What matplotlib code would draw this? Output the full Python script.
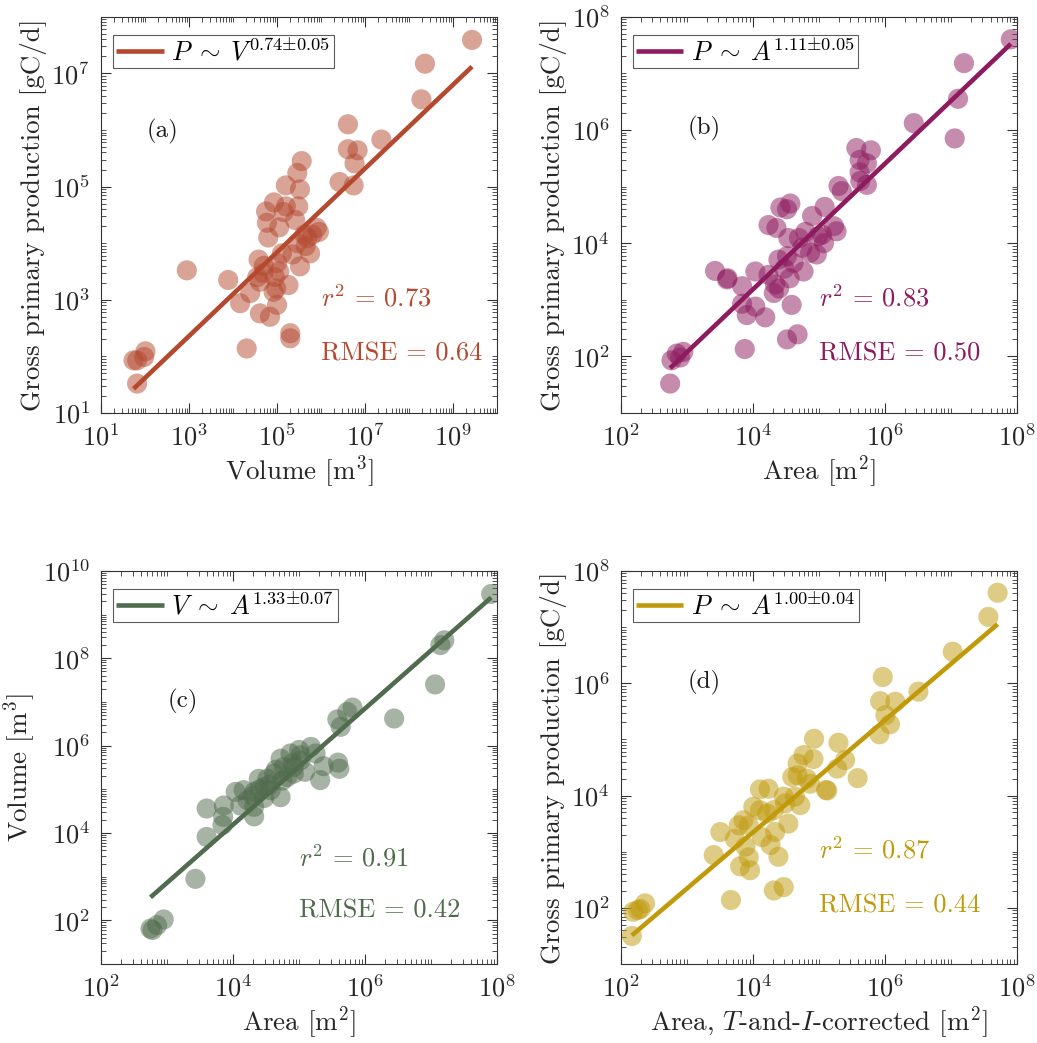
import numpy as np
import matplotlib
matplotlib.use("Agg")
import matplotlib.pyplot as plt
from matplotlib.ticker import LogLocator, NullFormatter

plt.rcParams['font.family'] = 'serif'
plt.rcParams['font.serif'] = ['cmr10', 'DejaVu Serif']
plt.rcParams['mathtext.fontset'] = 'cm'
plt.rcParams['axes.unicode_minus'] = False
plt.rcParams['axes.formatter.use_mathtext'] = True

# log10 values
# (a) GPP vs volume
a_logx = [9.43, 8.36, 8.28, 6.61, 7.37, 6.61, 6.83, 6.76, 6.42, 6.74,
          5.56, 5.46, 5.20, 5.52, 4.93, 5.20, 5.48, 4.75, 5.41, 4.77,
          5.05, 5.90, 4.80, 5.69, 5.80, 5.46, 5.75, 5.11, 4.58, 5.00,
          5.52, 4.69, 3.89, 4.61, 5.26, 4.92, 4.39, 4.16, 5.00, 4.61,
          4.84, 5.30, 5.30, 4.31, 2.95, 2.01, 1.82, 1.98, 1.74, 1.82,
          5.65, 5.35, 4.95, 5.62, 5.05, 4.70, 5.95, 4.55, 5.15, 4.98]
a_logy = [7.59, 7.17, 6.54, 6.10, 5.83, 5.66, 5.64, 5.41, 5.08, 5.02,
          5.45, 5.24, 5.02, 4.95, 4.72, 4.65, 4.65, 4.56, 4.41, 4.36,
          4.28, 4.27, 4.10, 4.09, 4.15, 4.00, 3.82, 3.82, 3.71, 3.65,
          3.59, 3.47, 3.35, 3.32, 3.26, 3.14, 3.12, 2.94, 2.91, 2.76,
          2.70, 2.41, 2.32, 2.14, 3.52, 2.09, 1.93, 1.99, 1.93, 1.52,
          3.95, 3.80, 3.40, 4.15, 3.50, 3.60, 4.20, 3.40, 4.55, 3.20]

# (b) GPP vs area
b_logx = [7.91, 7.20, 7.11, 7.06, 6.44, 5.57, 5.79, 5.62, 5.73, 5.62,
          5.63, 5.73, 5.30, 5.35, 5.09, 4.90, 4.57, 4.42, 4.52, 4.24,
          4.36, 4.99, 5.23, 5.27, 4.70, 4.54, 5.08, 4.75, 4.87, 4.97,
          4.52, 4.39, 4.62, 4.77, 4.04, 3.43, 3.61, 4.24, 4.34, 4.32,
          4.56, 3.84, 4.59, 3.84, 4.04, 3.91, 4.19, 4.52, 4.68, 3.88,
          2.75, 2.85, 2.95, 2.77, 2.90, 4.40, 4.48, 4.80, 5.05, 3.62]
b_logy = [7.60, 7.18, 6.55, 5.85, 6.12, 5.68, 5.64, 5.47, 5.41, 5.25,
          5.10, 5.03, 5.01, 4.92, 4.64, 4.48, 4.70, 4.63, 4.60, 4.32,
          4.27, 4.12, 4.30, 4.21, 4.09, 4.09, 4.00, 3.92, 3.83, 3.80,
          3.77, 3.71, 3.65, 3.50, 3.50, 3.51, 3.36, 3.44, 3.27, 3.12,
          3.38, 3.24, 2.91, 2.93, 2.88, 2.73, 2.69, 2.30, 2.39, 2.13,
          1.52, 2.05, 2.08, 1.93, 1.98, 3.20, 3.55, 4.20, 4.15, 3.38]

# (c) volume vs area
c_logx = [7.91, 7.20, 7.14, 7.06, 6.44, 5.81, 5.73, 5.58, 5.63, 5.59,
          5.61, 5.37, 5.32, 5.18, 5.25, 5.02, 4.87, 4.72, 4.77, 4.62,
          4.52, 4.39, 4.47, 4.57, 4.72, 4.32, 4.16, 4.04, 4.22, 4.32,
          4.11, 3.86, 4.32, 3.85, 3.84, 3.60, 3.60, 3.43, 2.75, 2.85,
          2.95, 2.78, 4.92, 5.02, 4.92, 5.09, 4.82, 5.00, 4.47, 4.55,
          4.90, 4.65, 4.30, 4.75, 4.40]
c_logy = [9.47, 8.41, 8.30, 7.40, 6.62, 6.87, 6.77, 6.60, 6.43, 5.61,
          5.47, 5.53, 5.21, 5.97, 5.82, 5.78, 5.82, 5.70, 5.51, 5.36,
          5.24, 5.24, 5.05, 4.98, 4.82, 4.94, 4.98, 4.94, 4.75, 4.60,
          4.63, 4.63, 4.38, 4.37, 4.18, 4.56, 3.91, 2.95, 1.81, 1.89,
          2.02, 1.78, 5.51, 5.66, 5.36, 5.40, 5.28, 5.90, 4.80, 5.10,
          5.60, 5.45, 4.85, 5.20, 5.00]

# (d) GPP vs corrected area
d_logx = [7.71, 7.57, 7.03, 5.97, 6.51, 5.93, 6.16, 6.01, 6.08, 5.92,
          4.93, 5.30, 4.77, 4.92, 4.68, 5.40, 5.28, 5.59, 4.60, 4.68,
          4.82, 4.87, 5.13, 5.11, 4.11, 4.24, 4.47, 4.64, 4.72, 4.49,
          4.01, 4.11, 4.22, 4.32, 3.86, 3.79, 3.94, 4.54, 3.51, 3.73,
          4.14, 4.34, 4.27, 3.89, 3.41, 4.39, 3.94, 3.81, 3.96, 4.32,
          4.47, 3.67, 2.17, 2.19, 2.37, 2.30, 2.26]
d_logy = [7.61, 7.18, 6.56, 6.11, 5.85, 5.68, 5.67, 5.43, 5.27, 5.09,
          5.01, 4.94, 4.72, 4.65, 4.57, 4.63, 4.48, 4.31, 4.33, 4.36,
          4.30, 4.21, 4.09, 4.10, 4.11, 4.12, 3.98, 3.98, 3.83, 3.86,
          3.80, 3.74, 3.68, 3.74, 3.56, 3.47, 3.47, 3.50, 3.35, 3.23,
          3.26, 3.35, 3.12, 3.09, 2.94, 2.91, 2.90, 2.74, 2.67, 2.31,
          2.37, 2.14, 1.50, 1.93, 2.08, 1.98, 1.96]

# fitted power laws: log y = intercept + slope * log x
slopes = [0.74, 1.11, 1.33, 1.00]
intercepts = [0.14, -1.26, -1.13, -0.66]
fit_labels = [r'$P\;\sim\;V^{0.74{\pm}0.05}$', r'$P\;\sim\;A^{1.11{\pm}0.05}$',
              r'$V\;\sim\;A^{1.33{\pm}0.07}$', r'$P\;\sim\;A^{1.00{\pm}0.04}$']
r2_vals = ['0.73', '0.83', '0.91', '0.87']
rmse_vals = ['0.64', '0.50', '0.42', '0.44']
panel_tags = ['(a)', '(b)', '(c)', '(d)']
colors = ['#B5492F', '#8E1A5F', '#506B4D', '#C09A0B']

xlabels = [r'Volume [m$^3$]', r'Area [m$^2$]', r'Area [m$^2$]',
           r'Area, $T$-and-$I$-corrected [m$^2$]']
ylabels = ['Gross primary production [gC/d]', 'Gross primary production [gC/d]',
           r'Volume [m$^3$]', 'Gross primary production [gC/d]']
xlims = [(1, 10), (2, 8), (2, 8), (2, 8)]
ylims = [(1, 8), (1, 8), (1, 10), (1, 8)]
xticks = [[1, 3, 5, 7, 9], [2, 4, 6, 8], [2, 4, 6, 8], [2, 4, 6, 8]]
yticks = [[1, 3, 5, 7], [2, 4, 6, 8], [2, 4, 6, 8, 10], [2, 4, 6, 8]]

rects = [[0.0974, 0.604, 0.382, 0.380], [0.5985, 0.604, 0.382, 0.380],
         [0.0974, 0.0757, 0.382, 0.377], [0.5985, 0.0757, 0.382, 0.377]]
tag_pos = [(0.154, 0.71), (0.21, 0.717), (0.207, 0.667), (0.21, 0.715)]
r2_pos = [(0.556, 0.29), (0.50, 0.29), (0.50, 0.27), (0.50, 0.29)]
rmse_pos = [(0.556, 0.149), (0.50, 0.149), (0.50, 0.135), (0.50, 0.148)]

data = [(a_logx, a_logy), (b_logx, b_logy), (c_logx, c_logy), (d_logx, d_logy)]

fig = plt.figure(figsize=(10.37, 10.43), dpi=100)

for i in range(4):
    ax = fig.add_axes(rects[i])
    lx, ly = np.array(data[i][0]), np.array(data[i][1])
    ax.scatter(10**lx, 10**ly, s=210, color=colors[i], alpha=0.5,
               edgecolors='none', zorder=2)
    fx = np.array([lx.min(), lx.max()])
    fy = intercepts[i] + slopes[i]*fx
    ax.plot(10**fx, 10**fy, color=colors[i], lw=3.3, label=fit_labels[i],
            solid_capstyle='butt', zorder=3)
    ax.set_xscale('log')
    ax.set_yscale('log')
    ax.set_xlim(10**xlims[i][0], 10**xlims[i][1])
    ax.set_ylim(10**ylims[i][0], 10**ylims[i][1])
    ax.set_xticks([10.0**k for k in xticks[i]])
    ax.set_xticklabels([r'$10^{%d}$' % k for k in xticks[i]])
    ax.set_yticks([10.0**k for k in yticks[i]])
    ax.set_yticklabels([r'$10^{%d}$' % k for k in yticks[i]])
    ax.xaxis.set_minor_locator(LogLocator(base=10, subs=np.arange(1, 10), numticks=50))
    ax.yaxis.set_minor_locator(LogLocator(base=10, subs=np.arange(1, 10), numticks=50))
    ax.xaxis.set_minor_formatter(NullFormatter())
    ax.yaxis.set_minor_formatter(NullFormatter())
    ax.tick_params(which='both', direction='in', top=True, right=True,
                   color='#333333', labelsize=19, labelcolor='#262626')
    ax.tick_params(which='major', length=7, width=0.8, pad=8)
    ax.tick_params(which='minor', length=3.5, width=0.6)
    for sp in ax.spines.values():
        sp.set_color('#333333')
        sp.set_linewidth(0.8)
    ax.set_xlabel(xlabels[i], fontsize=19.5, color='#262626', labelpad=2)
    ax.set_ylabel(ylabels[i], fontsize=19.5, color='#262626', labelpad=3)
    leg = ax.legend(loc='upper left', fontsize=19, frameon=True, fancybox=False,
                    handlelength=1.8, handletextpad=0.3, borderpad=0.12,
                    borderaxespad=0.45, bbox_to_anchor=(0.0, 0.985))
    leg.get_frame().set_edgecolor('#333333')
    leg.get_frame().set_linewidth(0.8)
    ax.text(tag_pos[i][0], tag_pos[i][1], panel_tags[i], transform=ax.transAxes,
            fontsize=18, ha='center', va='center', color='#1a1a1a')
    ax.text(r2_pos[i][0], r2_pos[i][1], r'$r^2$ = ' + r2_vals[i],
            transform=ax.transAxes, fontsize=19, ha='left', va='center',
            color=colors[i])
    ax.text(rmse_pos[i][0], rmse_pos[i][1], 'RMSE = ' + rmse_vals[i],
            transform=ax.transAxes, fontsize=19, ha='left', va='center',
            color=colors[i])

fig.savefig('out.png', dpi=100)
